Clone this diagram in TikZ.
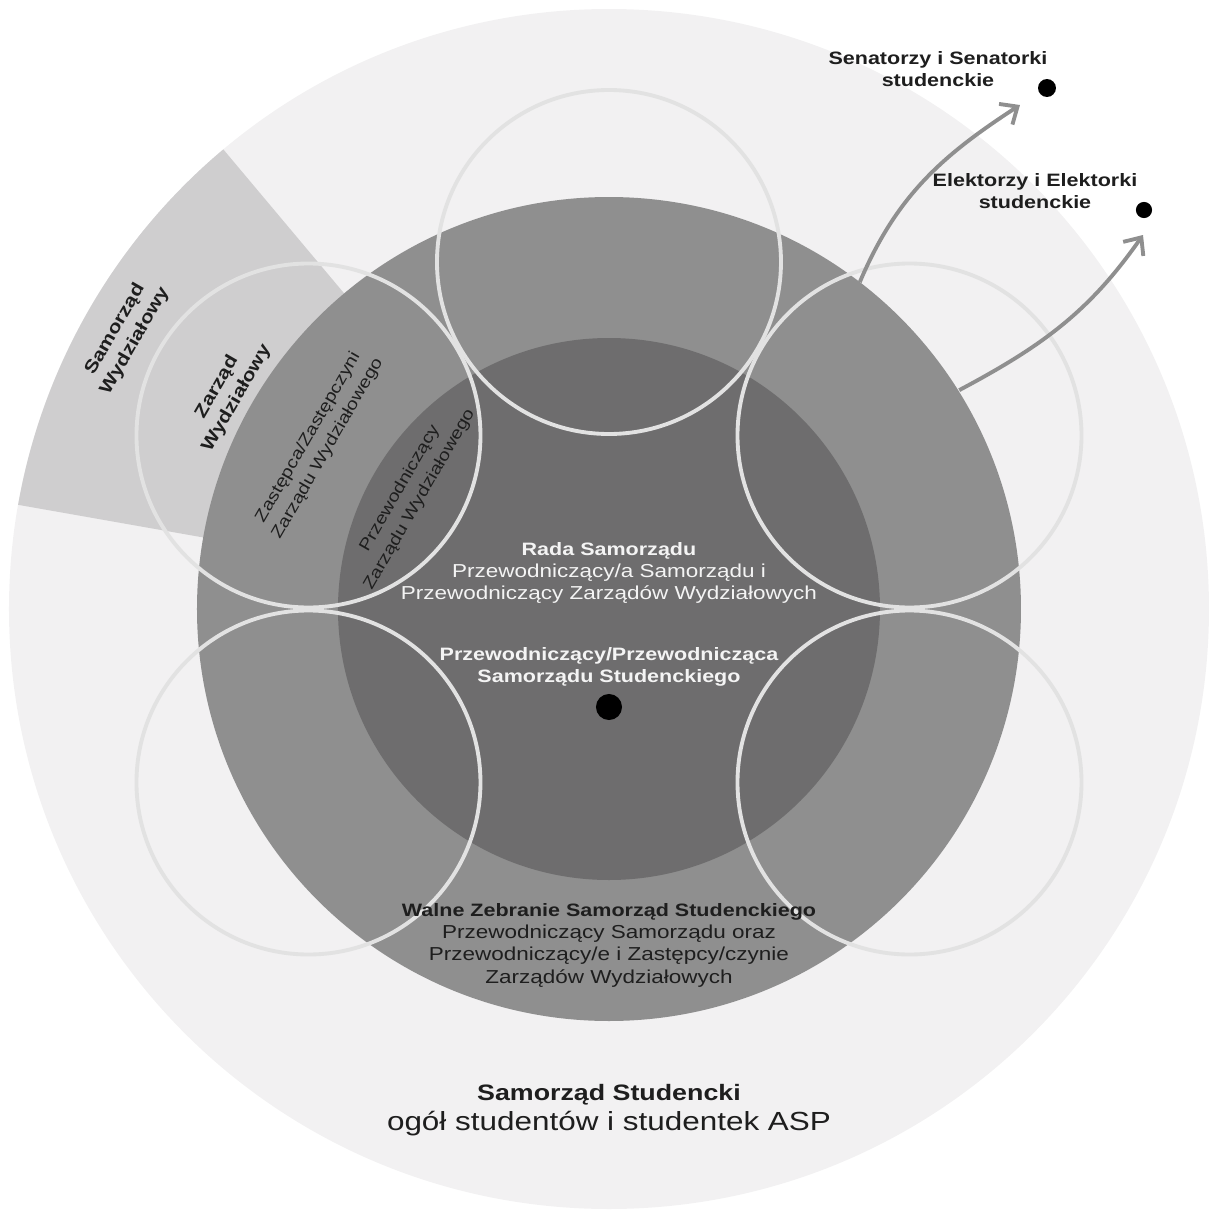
\documentclass[tikz,border=0pt]{standalone}
\usepackage{fontspec}
\setmainfont{Liberation Sans}[FakeStretch=1.2]
\usepackage{tikz}
\usetikzlibrary{calc,arrows.meta}
\definecolor{outerbg}{HTML}{F2F1F2}
\definecolor{wedgegray}{HTML}{CFCECF}
\definecolor{midgray}{HTML}{8F8F8F}
\definecolor{darkgray}{HTML}{6E6D6E}
\definecolor{ringline}{HTML}{E2E2E2}
\definecolor{inktext}{HTML}{1E1E1E}
\definecolor{paletext}{HTML}{F4F4F4}
\newcommand{\regfont}{\fontsize{5.33}{6.35}\selectfont}
\newcommand{\bfont}{\fontsize{5.1}{6.35}\selectfont\bfseries}
\newcommand{\bigbfont}{\fontsize{6.35}{8.5}\selectfont\bfseries}
\newcommand{\bigfont}{\fontsize{7.45}{8.6}\selectfont}
\newcommand{\rotfont}{\fontsize{4.7}{6.4}\selectfont}
\newcommand{\rotbfont}{\fontsize{5.05}{6.5}\selectfont\bfseries}

\begin{document}
\begin{tikzpicture}[x=0.01cm,y=0.01cm,
    ring/.style={draw=ringline,line width=1.1pt},
    blob/.style={circle,fill=black,inner sep=0pt},
    voteArrow/.style={draw=midgray,line width=1.1pt,-{Straight Barb[length=4pt,width=7pt]}},
    txt/.style={align=center,inner sep=0pt,text=inktext},
    rottxt/.style={txt,rotate=60}]
  \useasboundingbox (-609,-602) rectangle (602,609);
  \fill[outerbg] (0,0) circle (600);
  \fill[wedgegray] (0,0) -- (130:600) arc (130:170:600) -- cycle;
  \fill[midgray] (0,0) circle (412);
  \fill[darkgray] (0,0) circle (271);
  \foreach \a in {90,150,30,210,330}
    \draw[ring] (\a:347) circle (172);
  \node[blob,minimum size=7.4pt] (chair) at (0,-98) {};
  \node[blob,minimum size=5.1pt] (sen) at (438,521) {};
  \node[blob,minimum size=4.6pt] (elk) at (535,399) {};
  \coordinate (senStart) at (52.5:412);
  \coordinate (senEnd) at (411,504);
  \coordinate (elkStart) at (32:413);
  \coordinate (elkEnd) at (534,374);
  \draw[voteArrow] (senStart) to[out=67,in=213] (senEnd);
  \draw[voteArrow] (elkStart) to[out=28,in=235] (elkEnd);
  \node[txt,font=\bfont] (senLbl) at (329,540) {Senatorzy i Senatorki\\studenckie};
  \node[txt,font=\bfont] (elkLbl) at (426,418) {Elektorzy i Elektorki\\studenckie};
  \node[txt,font=\regfont,text=paletext] (rada) at (0,36) {{\bfont Rada Samorządu}\\Przewodniczący/a Samorządu i\\Przewodniczący Zarządów Wydziałowych};
  \node[txt,font=\bfont,text=paletext] (chairLbl) at (0,-58) {Przewodniczący/Przewodnicząca\\Samorządu Studenckiego};
  \node[txt,font=\regfont] (walne) at (0,-336) {{\bfont Walne Zebranie Samorząd Studenckiego}\\Przewodniczący Samorządu oraz\\Przewodniczący/e i Zastępcy/czynie\\Zarządów Wydziałowych};
  \node[txt,font=\bigfont] (whole) at (0,-501) {{\bigbfont Samorząd Studencki}\\ogół studentów i studentek ASP};
  \node[rottxt,font=\rotbfont] (facGov) at (150.5:556) {Samorząd\\Wydziałowy};
  \node[rottxt,font=\rotbfont] (facBoard) at (150.5:439) {Zarząd\\Wydziałowy};
  \node[rottxt,font=\rotfont] (deputy) at (150.3:335) {Zastępca/Zastępczyni\\Zarządu Wydziałowego};
  \node[rottxt,font=\rotfont] (facChair) at (150:230) {Przewodniczący\\Zarządu Wydziałowego};
\end{tikzpicture}
\end{document}
